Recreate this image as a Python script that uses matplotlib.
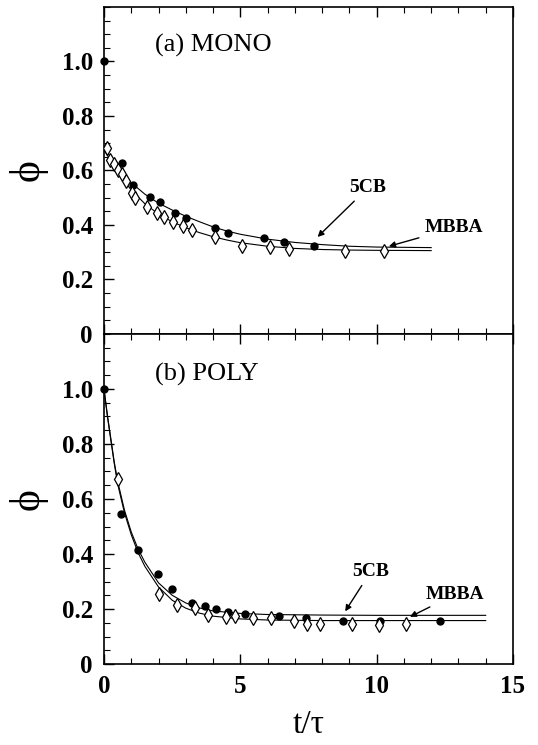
import numpy as np
import matplotlib
matplotlib.use("Agg")
import matplotlib.pyplot as plt
from matplotlib.ticker import MultipleLocator

plt.rcParams['font.family'] = ['Liberation Serif', 'DejaVu Serif']

# ---- (a) MONO ----
mono_5cb_x = [0, 0.65, 1.07, 1.68, 2.07, 2.6, 3.02, 4.06, 4.55, 5.85, 6.62, 7.7]
mono_5cb_y = [1.0, 0.626, 0.545, 0.504, 0.483, 0.444, 0.427, 0.389, 0.372, 0.352, 0.338, 0.323]
mono_mbba_x = [0.12, 0.22, 0.37, 0.52, 0.65, 0.8, 1.02, 1.14, 1.59, 1.95, 2.21, 2.54, 2.88,
               3.21, 4.06, 5.07, 6.1, 6.77, 8.85, 10.28]
mono_mbba_y = [0.681, 0.64, 0.624, 0.6, 0.586, 0.563, 0.518, 0.498, 0.467, 0.445, 0.431,
               0.412, 0.396, 0.383, 0.357, 0.323, 0.318, 0.311, 0.306, 0.304]
mono_fit_x = [0, 0.5, 1, 1.5, 2, 2.5, 3, 3.5, 4, 4.5, 5, 6, 7, 8, 9, 10, 12]
mono_fit_5cb = [0.685, 0.61, 0.555, 0.513, 0.48, 0.455, 0.432, 0.412, 0.393, 0.378, 0.366,
                0.348, 0.336, 0.328, 0.322, 0.319, 0.317]
mono_fit_mbba = [0.675, 0.595, 0.528, 0.478, 0.44, 0.412, 0.39, 0.372, 0.357, 0.345, 0.335,
                 0.322, 0.314, 0.31, 0.308, 0.307, 0.306]

# ---- (b) POLY ----
poly_5cb_x = [0, 0.62, 1.24, 1.99, 2.48, 3.23, 3.71, 4.09, 4.56, 5.18, 6.43, 7.42, 8.77, 10.12, 12.33]
poly_5cb_y = [1.0, 0.544, 0.414, 0.326, 0.274, 0.222, 0.21, 0.2, 0.19, 0.182, 0.176, 0.166,
              0.158, 0.158, 0.158]
poly_mbba_x = [0.52, 2.0, 2.66, 3.32, 3.82, 4.46, 4.8, 5.46, 6.12, 6.96, 7.46, 7.94, 9.11, 10.1, 11.09]
poly_mbba_y = [0.672, 0.253, 0.213, 0.202, 0.18, 0.171, 0.173, 0.166, 0.167, 0.155, 0.144,
               0.144, 0.144, 0.142, 0.147]
poly_fit_x = [0, 0.125, 0.25, 0.375, 0.5, 0.75, 1, 1.25, 1.5, 2, 2.5, 3, 3.5, 4, 5, 6, 8, 10, 14]
poly_fit_5cb = [1.0, 0.905, 0.82, 0.735, 0.665, 0.56, 0.48, 0.418, 0.37, 0.295, 0.25, 0.222,
                0.204, 0.193, 0.184, 0.18, 0.178, 0.177, 0.177]
poly_fit_mbba = [1.0, 0.9, 0.815, 0.73, 0.655, 0.55, 0.47, 0.405, 0.355, 0.28, 0.232, 0.203,
                 0.185, 0.174, 0.164, 0.16, 0.158, 0.158, 0.158]

ytick_vals = [0, 0.2, 0.4, 0.6, 0.8, 1.0]
ytick_labels = ['0', '0.2', '0.4', '0.6', '0.8', '1.0']
xtick_vals = [0, 5, 10, 15]
xtick_labels = ['0', '5', '10', '15']

fig = plt.figure(figsize=(5.38, 7.45), dpi=100)
ax1 = fig.add_axes([0.1933, 0.5517, 0.7602, 0.4389])
ax2 = fig.add_axes([0.1933, 0.1087, 0.7602, 0.4430])


def style(ax):
    ax.set_xlim(0, 15)
    ax.set_ylim(0, 1.2)
    ax.xaxis.set_major_locator(MultipleLocator(5))
    ax.xaxis.set_minor_locator(MultipleLocator(1))
    ax.set_yticks(ytick_vals)
    ax.set_yticklabels(ytick_labels)
    ax.yaxis.set_minor_locator(MultipleLocator(0.05))
    ax.tick_params(axis='x', which='both', direction='in', top=True, bottom=True)
    ax.tick_params(axis='y', which='both', direction='in', left=True, right=False)
    ax.tick_params(which='major', length=7, width=1.0, labelsize=18, pad=8)
    ax.tick_params(which='minor', length=4, width=0.8)
    for lab in ax.get_xticklabels() + ax.get_yticklabels():
        lab.set_fontweight('bold')
    for s in ax.spines.values():
        s.set_linewidth(1.2)
    ax.set_ylabel('ϕ', fontsize=30, labelpad=10)


def panel(ax, fx, f5, fm, x5, y5, xm, ym):
    ax.plot(fx, f5, color='black', lw=0.8)
    ax.plot(fx, fm, color='black', lw=0.8)
    ax.plot(x5, y5, 'o', color='black', ms=5, clip_on=False, zorder=4)
    ax.plot(xm, ym, 'd', mfc='white', mec='black', mew=0.9, ms=7.5, zorder=5)


style(ax1)
style(ax2)
ax1.tick_params(axis='x', labelbottom=False)
ax2.set_xticks(xtick_vals)
ax2.set_xticklabels(xtick_labels, fontweight='bold')

panel(ax1, mono_fit_x, mono_fit_5cb, mono_fit_mbba, mono_5cb_x, mono_5cb_y, mono_mbba_x, mono_mbba_y)
panel(ax2, poly_fit_x, poly_fit_5cb, poly_fit_mbba, poly_5cb_x, poly_5cb_y, poly_mbba_x, poly_mbba_y)

ax1.text(1.87, 1.06, '(a) MONO', fontsize=19, va='center')
ax2.text(1.87, 1.052, '(b) POLY', fontsize=19, va='center')

arrow = dict(arrowstyle='-|>', color='black', lw=1.0, mutation_scale=9)
ax1.annotate('5CB', xy=(7.76, 0.349), xytext=(9.0, 0.536), fontsize=14, va='center',
             fontweight='bold', arrowprops=arrow)
ax1.annotate('MBBA', xy=(10.35, 0.319), xytext=(11.75, 0.389), fontsize=14, va='center',
             fontweight='bold', arrowprops=arrow)
ax2.annotate('5CB', xy=(8.79, 0.183), xytext=(9.1, 0.335), fontsize=14, va='center',
             fontweight='bold', arrowprops=arrow)
ax2.annotate('MBBA', xy=(11.13, 0.167), xytext=(11.8, 0.253), fontsize=14, va='center',
             fontweight='bold', arrowprops=arrow)

ax2.set_xlabel('t/τ', fontsize=24, labelpad=8)

fig.savefig('out.png', dpi=100)
